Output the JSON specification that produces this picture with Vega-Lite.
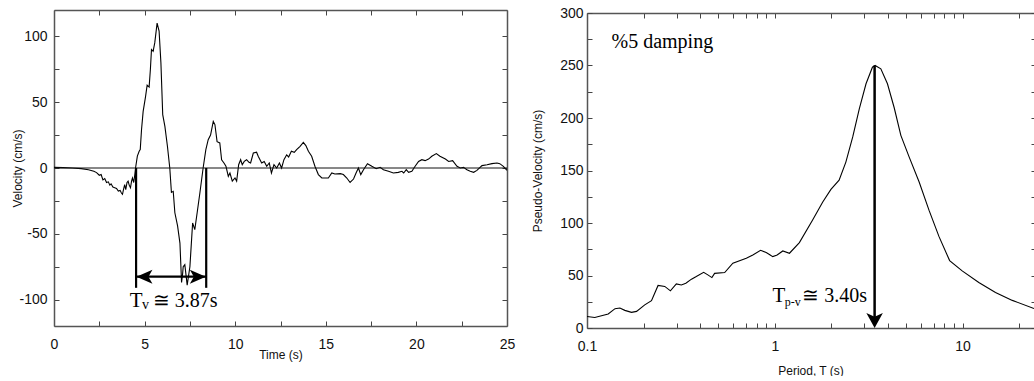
{
  "$schema": "https://vega.github.io/schema/vega-lite/v6.json",
  "padding": {"left": 11, "top": 6, "right": 0, "bottom": 0},
  "spacing": 16,
  "config": {
    "view": {"stroke": null},
    "axis": {
      "labelFont": "Liberation Sans", "titleFont": "Liberation Sans",
      "labelFontSize": 14, "titleFontSize": 12, "titleFontWeight": "normal",
      "labelColor": "#111", "titleColor": "#111", "labelFlush": false,
      "domainColor": "#555", "domainWidth": 1.5,
      "tickColor": "#444", "tickWidth": 1, "grid": false
    }
  },
  "datasets": {
    "vel": [
      {"t":0,"v":0.5},{"t":0.5,"v":0.3},{"t":1.0,"v":0},{"t":1.5,"v":-0.5},{"t":1.9,"v":-1.3},{"t":2.2,"v":-2.5},{"t":2.35,"v":-3.5},{"t":2.5,"v":-5.5},{"t":2.6,"v":-5},{"t":2.7,"v":-9},{"t":2.8,"v":-8},{"t":2.9,"v":-11},{"t":3.0,"v":-10.5},{"t":3.08,"v":-13},{"t":3.15,"v":-12},{"t":3.25,"v":-14.5},{"t":3.35,"v":-15},{"t":3.45,"v":-15.5},{"t":3.55,"v":-17.5},{"t":3.65,"v":-17},{"t":3.72,"v":-19},{"t":3.78,"v":-20},{"t":3.84,"v":-16},{"t":3.9,"v":-12.7},{"t":3.96,"v":-16.5},{"t":4.03,"v":-11},{"t":4.09,"v":-10},{"t":4.15,"v":-13},{"t":4.22,"v":-15},{"t":4.28,"v":-10},{"t":4.33,"v":-7.6},{"t":4.4,"v":-11},{"t":4.46,"v":-5},{"t":4.5,"v":0},{"t":4.6,"v":9},{"t":4.7,"v":12.7},{"t":4.76,"v":14},{"t":4.83,"v":29},{"t":4.92,"v":43},{"t":5.05,"v":54},{"t":5.14,"v":63},{"t":5.25,"v":61.5},{"t":5.32,"v":75},{"t":5.38,"v":90},{"t":5.47,"v":88.6},{"t":5.56,"v":95},{"t":5.69,"v":110},{"t":5.8,"v":104},{"t":5.9,"v":80},{"t":6.0,"v":40.5},{"t":6.12,"v":31.6},{"t":6.26,"v":16.5},{"t":6.39,"v":0},{"t":6.48,"v":-18.5},{"t":6.58,"v":-17.7},{"t":6.67,"v":-34},{"t":6.82,"v":-44},{"t":6.95,"v":-57},{"t":7.04,"v":-87},{"t":7.1,"v":-80},{"t":7.13,"v":-75},{"t":7.22,"v":-73.4},{"t":7.35,"v":-89},{"t":7.5,"v":-75},{"t":7.65,"v":-41.8},{"t":7.77,"v":-46.8},{"t":7.9,"v":-34},{"t":8.05,"v":-19},{"t":8.23,"v":0},{"t":8.38,"v":14},{"t":8.51,"v":21.5},{"t":8.64,"v":25},{"t":8.79,"v":35.4},{"t":8.88,"v":33},{"t":9.0,"v":20},{"t":9.15,"v":19},{"t":9.25,"v":6.3},{"t":9.38,"v":3.8},{"t":9.49,"v":1.3},{"t":9.62,"v":-6.3},{"t":9.71,"v":-3.8},{"t":9.84,"v":-10},{"t":9.99,"v":-7.6},{"t":10.08,"v":-10},{"t":10.19,"v":2.5},{"t":10.3,"v":6.3},{"t":10.39,"v":2.5},{"t":10.5,"v":5},{"t":10.63,"v":6.3},{"t":10.76,"v":4.3},{"t":10.85,"v":3.8},{"t":11.0,"v":11.4},{"t":11.18,"v":12},{"t":11.27,"v":8.9},{"t":11.46,"v":3.8},{"t":11.6,"v":5},{"t":11.74,"v":1.3},{"t":11.88,"v":3.8},{"t":12.0,"v":-3.8},{"t":12.14,"v":2.5},{"t":12.29,"v":0},{"t":12.44,"v":3.8},{"t":12.56,"v":0},{"t":12.69,"v":6.3},{"t":12.84,"v":10},{"t":12.95,"v":8.4},{"t":13.1,"v":12.7},{"t":13.26,"v":11.9},{"t":13.39,"v":14},{"t":13.58,"v":16.5},{"t":13.76,"v":19.5},{"t":13.9,"v":17},{"t":14.04,"v":12.7},{"t":14.22,"v":8.9},{"t":14.4,"v":1.3},{"t":14.59,"v":-5},{"t":14.78,"v":-7.6},{"t":14.96,"v":-7.6},{"t":15.14,"v":-7.6},{"t":15.33,"v":-3.8},{"t":15.5,"v":-4.6},{"t":15.8,"v":-4.3},{"t":15.97,"v":-5},{"t":16.16,"v":-7.6},{"t":16.34,"v":-11},{"t":16.53,"v":-8.4},{"t":16.67,"v":-3.8},{"t":16.8,"v":0},{"t":16.93,"v":-5},{"t":17.08,"v":-1.3},{"t":17.3,"v":3.3},{"t":17.54,"v":1.3},{"t":17.78,"v":-0.5},{"t":18.0,"v":0.5},{"t":18.18,"v":-1.3},{"t":18.46,"v":-2.5},{"t":18.73,"v":-3.8},{"t":19.0,"v":-3.3},{"t":19.2,"v":-2.5},{"t":19.3,"v":-3.8},{"t":19.44,"v":-1.3},{"t":19.57,"v":-3.3},{"t":19.75,"v":-2.5},{"t":19.93,"v":1.3},{"t":20.12,"v":5},{"t":20.3,"v":6.3},{"t":20.48,"v":5.6},{"t":20.67,"v":6.8},{"t":20.85,"v":8.9},{"t":21.1,"v":10.9},{"t":21.3,"v":8.9},{"t":21.6,"v":6.8},{"t":21.78,"v":5},{"t":22.0,"v":5.6},{"t":22.24,"v":1.3},{"t":22.42,"v":0},{"t":22.6,"v":0.5},{"t":22.79,"v":-1.3},{"t":22.97,"v":-2.5},{"t":23.16,"v":-3.3},{"t":23.34,"v":-1.8},{"t":23.62,"v":1.8},{"t":23.9,"v":2.5},{"t":24.17,"v":3.3},{"t":24.45,"v":3.8},{"t":24.6,"v":3.3},{"t":24.8,"v":1.3},{"t":25.0,"v":-1.8}
    ],
    "psv": [
      {"T":0.1,"v":11},{"T":0.11,"v":10},{"T":0.1297,"v":13.3},{"T":0.141,"v":18.4},{"T":0.1497,"v":19},{"T":0.159,"v":16.8},{"T":0.1726,"v":14.9},{"T":0.1836,"v":15.8},{"T":0.203,"v":22},{"T":0.2205,"v":26},{"T":0.239,"v":40.5},{"T":0.2595,"v":39.6},{"T":0.278,"v":35.4},{"T":0.299,"v":42},{"T":0.318,"v":41},{"T":0.336,"v":42.7},{"T":0.36,"v":46.5},{"T":0.382,"v":49},{"T":0.418,"v":53},{"T":0.44,"v":50.6},{"T":0.4625,"v":48},{"T":0.478,"v":52},{"T":0.541,"v":52.8},{"T":0.598,"v":61.7},{"T":0.705,"v":66.5},{"T":0.764,"v":69.6},{"T":0.84,"v":74},{"T":0.9,"v":71.8},{"T":0.976,"v":68},{"T":1.029,"v":69.6},{"T":1.103,"v":73.4},{"T":1.197,"v":71.2},{"T":1.352,"v":81.3},{"T":1.59,"v":102.8},{"T":1.8,"v":120},{"T":1.99,"v":132},{"T":2.2,"v":140.8},{"T":2.39,"v":158},{"T":2.6,"v":182},{"T":2.82,"v":209},{"T":3.06,"v":232.6},{"T":3.31,"v":248.4},{"T":3.42,"v":250},{"T":3.67,"v":246.8},{"T":3.98,"v":232.6},{"T":4.32,"v":210},{"T":4.69,"v":183.5},{"T":5.19,"v":163},{"T":5.87,"v":139},{"T":6.63,"v":112},{"T":7.49,"v":87},{"T":8.53,"v":64.2},{"T":9.95,"v":54.4},{"T":12.2,"v":43.4},{"T":14.97,"v":33.9},{"T":18.4,"v":26.3},{"T":24,"v":18.5}
    ]
  },
  "hconcat": [
    {
      "width": 453,
      "height": 316,
      "resolve": {"axis": {"x": "independent", "y": "independent"}},
      "layer": [
        {
          "data": {"name": "vel"},
          "mark": {"type": "line", "color": "black", "strokeWidth": 1.1, "clip": true},
          "encoding": {
            "x": {"field": "t", "type": "quantitative", "scale": {"domain": [0, 25], "nice": false},
              "axis": {"orient": "bottom", "title": "Time (s)", "values": [0,2.5,5,7.5,10,12.5,15,17.5,20,22.5,25],
                "labelExpr": "datum.value % 5 === 0 ? '' + datum.value : ''", "tickSize": -5, "labelPadding": 16,
                "titleBaseline": "alphabetic", "titleY": 32}},
            "y": {"field": "v", "type": "quantitative", "scale": {"domain": [-120, 120], "nice": false},
              "axis": {"orient": "left", "title": "Velocity (cm/s)", "values": [-100,-75,-50,-25,0,25,50,75,100],
                "labelExpr": "datum.value % 50 === 0 ? '' + datum.value : ''", "tickSize": -5, "labelPadding": 12,
                "titleBaseline": "middle", "titleX": -37}}
          }
        },
        {
          "data": {"values": [{"v": 0}]},
          "mark": {"type": "rule", "color": "#111", "strokeWidth": 1},
          "encoding": {
            "y": {"field": "v", "type": "quantitative",
              "axis": {"orient": "right", "labels": false, "title": null, "values": [-100,-75,-50,-25,0,25,50,75,100], "tickSize": -5}}
          }
        },
        {
          "data": {"values": [{"t": 4.53, "a": 0, "b": -91}, {"t": 8.40, "a": 0, "b": -91}]},
          "mark": {"type": "rule", "color": "black", "strokeWidth": 2.2},
          "encoding": {
            "x": {"field": "t", "type": "quantitative",
              "axis": {"orient": "top", "labels": false, "title": null, "values": [0,2.5,5,7.5,10,12.5,15,17.5,20,22.5,25], "tickSize": -5}},
            "y": {"field": "a", "type": "quantitative", "axis": null},
            "y2": {"field": "b"}
          }
        },
        {
          "data": {"values": [{"t1": 4.53, "t2": 8.40, "v": -82.5}]},
          "mark": {"type": "rule", "color": "black", "strokeWidth": 2.2},
          "encoding": {
            "x": {"field": "t1", "type": "quantitative", "axis": null},
            "x2": {"field": "t2"},
            "y": {"field": "v", "type": "quantitative", "axis": null}
          }
        },
        {
          "data": {"values": [{"t": 4.55, "v": -82.5}]},
          "mark": {"type": "point", "shape": "M 0 0 L 2 -0.875 L 1.5 0 L 2 0.875 Z", "filled": true, "color": "black", "opacity": 1, "size": 256},
          "encoding": {
            "x": {"field": "t", "type": "quantitative", "axis": null},
            "y": {"field": "v", "type": "quantitative", "axis": null}
          }
        },
        {
          "data": {"values": [{"t": 8.38, "v": -82.5}]},
          "mark": {"type": "point", "shape": "M 0 0 L -2 -0.875 L -1.5 0 L -2 0.875 Z", "filled": true, "color": "black", "opacity": 1, "size": 256},
          "encoding": {
            "x": {"field": "t", "type": "quantitative", "axis": null},
            "y": {"field": "v", "type": "quantitative", "axis": null}
          }
        },
        {
          "data": {"values": [{"t": 4.18, "v": -105.3, "s": "T"}]},
          "mark": {"type": "text", "font": "Liberation Serif", "fontSize": 21, "align": "left", "baseline": "alphabetic", "color": "black"},
          "encoding": {
            "x": {"field": "t", "type": "quantitative", "axis": null},
            "y": {"field": "v", "type": "quantitative", "axis": null},
            "text": {"field": "s"}
          }
        },
        {
          "data": {"values": [{"t": 4.86, "v": -107.1, "s": "v"}]},
          "mark": {"type": "text", "font": "Liberation Serif", "fontSize": 14, "align": "left", "baseline": "alphabetic", "color": "black"},
          "encoding": {
            "x": {"field": "t", "type": "quantitative", "axis": null},
            "y": {"field": "v", "type": "quantitative", "axis": null},
            "text": {"field": "s"}
          }
        },
        {
          "data": {"values": [{"t": 5.45, "v": -105.3, "s": "≅ 3.87s"}]},
          "mark": {"type": "text", "font": "Liberation Serif", "fontSize": 20, "align": "left", "baseline": "alphabetic", "color": "black"},
          "encoding": {
            "x": {"field": "t", "type": "quantitative", "axis": null},
            "y": {"field": "v", "type": "quantitative", "axis": null},
            "text": {"field": "s"}
          }
        }
      ]
    },
    {
      "width": 447,
      "height": 318,
      "resolve": {"axis": {"x": "independent", "y": "independent"}},
      "layer": [
        {
          "data": {"name": "psv"},
          "mark": {"type": "line", "color": "black", "strokeWidth": 1.1, "clip": true},
          "encoding": {
            "x": {"field": "T", "type": "quantitative", "scale": {"type": "log", "domain": [0.1, 24], "nice": false},
              "axis": {"orient": "bottom", "title": "Period, T (s)",
                "values": [0.1,0.2,0.3,0.4,0.5,0.6,0.7,0.8,0.9,1,2,3,4,5,6,7,8,9,10,20],
                "labelExpr": "datum.value === 0.1 ? '0.1' : datum.value === 1 ? '1' : datum.value === 10 ? '10' : ''",
                "tickSize": -5, "labelPadding": 16, "titleBaseline": "alphabetic", "titleY": 46}},
            "y": {"field": "v", "type": "quantitative", "scale": {"domain": [0, 300], "nice": false, "range": [318, 3]},
              "axis": {"orient": "left", "title": "Pseudo-Velocity (cm/s)", "values": [0,25,50,75,100,125,150,175,200,225,250,275,300],
                "labelExpr": "datum.value % 50 === 0 ? '' + datum.value : ''", "tickSize": -5, "labelPadding": 9,
                "titleBaseline": "middle", "titleX": -50}}
          }
        },
        {
          "data": {"values": [{"T": 3.4, "a": 250, "b": 4}]},
          "mark": {"type": "rule", "color": "black", "strokeWidth": 2.5},
          "encoding": {
            "x": {"field": "T", "type": "quantitative",
              "axis": {"orient": "top", "labels": false, "title": null, "offset": -3,
                "values": [0.1,0.2,0.3,0.4,0.5,0.6,0.7,0.8,0.9,1,2,3,4,5,6,7,8,9,10,20], "tickSize": -5}},
            "y": {"field": "a", "type": "quantitative",
              "axis": {"orient": "right", "labels": false, "title": null, "domain": false,
                "values": [0,25,50,75,100,125,150,175,200,225,250,275,300], "tickSize": -3}},
            "y2": {"field": "b"}
          }
        },
        {
          "data": {"values": [{"T": 3.4, "v": 0}]},
          "mark": {"type": "point", "shape": "M 0 0 L -1.1 -2 L 0 -1.5 L 1.1 -2 Z", "filled": true, "color": "black", "opacity": 1, "size": 225},
          "encoding": {
            "x": {"field": "T", "type": "quantitative", "axis": null},
            "y": {"field": "v", "type": "quantitative", "axis": null}
          }
        },
        {
          "data": {"values": [{"T": 0.973, "v": 25, "s": "T"}]},
          "mark": {"type": "text", "font": "Liberation Serif", "fontSize": 21, "align": "left", "baseline": "alphabetic", "color": "black"},
          "encoding": {
            "x": {"field": "T", "type": "quantitative", "axis": null},
            "y": {"field": "v", "type": "quantitative", "axis": null},
            "text": {"field": "s"}
          }
        },
        {
          "data": {"values": [{"T": 1.13, "v": 20.5, "s": "p-v"}]},
          "mark": {"type": "text", "font": "Liberation Serif", "fontSize": 12, "align": "left", "baseline": "alphabetic", "color": "black"},
          "encoding": {
            "x": {"field": "T", "type": "quantitative", "axis": null},
            "y": {"field": "v", "type": "quantitative", "axis": null},
            "text": {"field": "s"}
          }
        },
        {
          "data": {"values": [{"T": 1.40, "v": 25, "s": "≅ 3.40s"}]},
          "mark": {"type": "text", "font": "Liberation Serif", "fontSize": 20, "align": "left", "baseline": "alphabetic", "color": "black"},
          "encoding": {
            "x": {"field": "T", "type": "quantitative", "axis": null},
            "y": {"field": "v", "type": "quantitative", "axis": null},
            "text": {"field": "s"}
          }
        },
        {
          "data": {"values": [{"T": 0.135, "v": 267, "s": "%5 damping"}]},
          "mark": {"type": "text", "font": "Liberation Serif", "fontSize": 20, "align": "left", "baseline": "alphabetic", "color": "black"},
          "encoding": {
            "x": {"field": "T", "type": "quantitative", "axis": null},
            "y": {"field": "v", "type": "quantitative", "axis": null},
            "text": {"field": "s"}
          }
        }
      ]
    }
  ]
}
